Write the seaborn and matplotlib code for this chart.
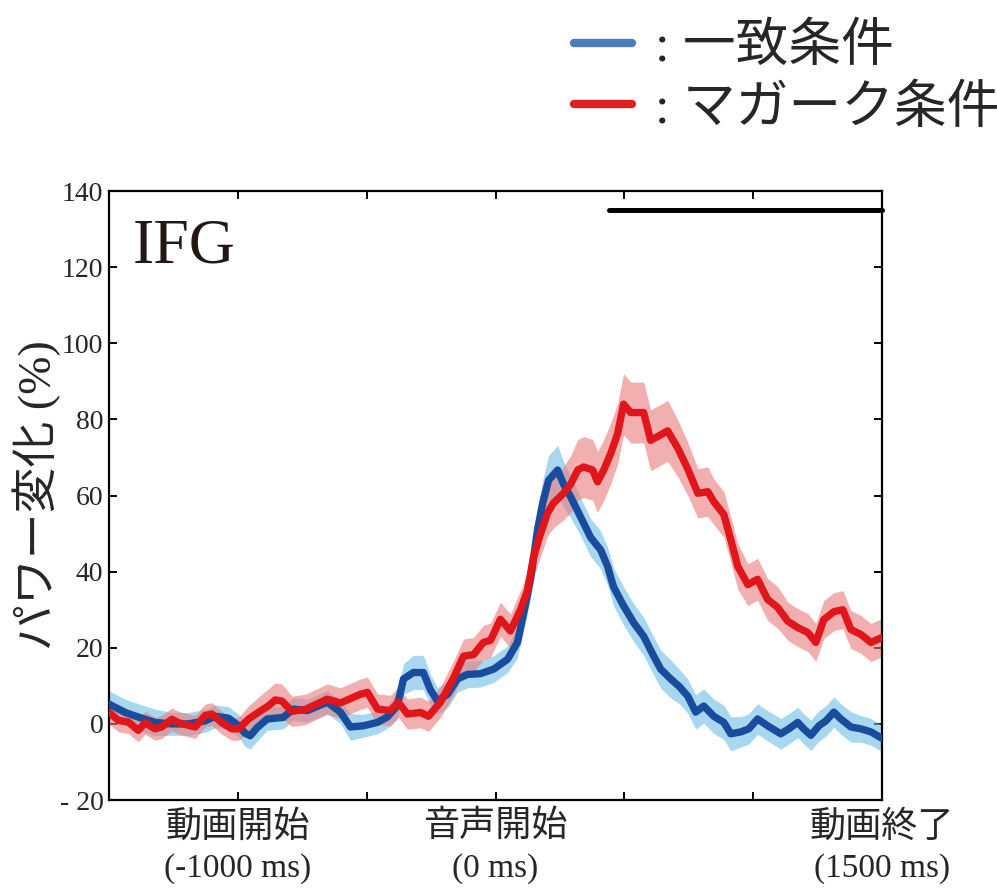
import matplotlib
matplotlib.use("Agg")
import matplotlib.pyplot as plt
import seaborn as sns
import pandas as pd
from matplotlib.lines import Line2D
from matplotlib.font_manager import FontProperties

# ---------------- data ----------------
blue_t = [-1500, -1437, -1386, -1321, -1256, -1191, -1127, -1088, -1036, -997,
          -971, -952, -925, -886, -824, -785, -730, -653, -602, -563,
          -513, -458, -420, -381, -357, -319, -280, -253, -225, -186,
          -148, -109, -58, -7, 47, 85, 109, 136, 163, 183,
          206, 241, 264, 292, 330, 369, 408, 435, 458, 497,
          536, 575, 614, 641, 680, 715, 746, 777, 808, 847,
          886, 913, 952, 983, 1017, 1056, 1107, 1138, 1173, 1196,
          1224, 1255, 1282, 1313, 1340, 1379, 1418, 1457, 1500]
blue_v = [5.2, 3.0, 1.8, 0.4, 0.0, 0.0, 0.8, 2.0, 1.5, -0.5,
          -2.5, -3.1, -1.0, 1.3, 1.7, 3.9, 3.5, 5.7, 3.1, -0.8,
          -0.5, 0.4, 1.8, 4.8, 11.8, 13.5, 13.5, 9.0, 6.0, 7.8,
          11.8, 13.0, 13.2, 14.4, 17.0, 21.4, 29.0, 38.0, 51.0, 58.0,
          64.0, 66.7, 63.0, 59.6, 54.4, 49.0, 45.7, 41.4, 36.0, 31.0,
          26.6, 23.0, 17.8, 14.4, 11.8, 9.7, 7.3, 3.1, 4.7, 2.0,
          0.4, -2.6, -2.1, -1.3, 1.3, -0.5, -2.6, -1.3, 0.4, -1.3,
          -3.0, -0.5, 0.8, 3.1, 1.3, -0.8, -1.3, -2.1, -3.8]
blue_e = [3.5, 3.5, 3.5, 3.5, 3.0, 3.0, 3.0, 3.0, 3.0, 3.0,
          3.5, 3.5, 3.5, 3.0, 3.0, 3.0, 3.0, 3.0, 3.0, 3.5,
          3.0, 3.0, 3.0, 3.5, 4.0, 4.5, 4.5, 4.0, 3.5, 3.5,
          3.5, 3.5, 3.5, 3.5, 3.5, 4.0, 4.5, 5.0, 5.5, 6.0,
          6.5, 6.5, 6.0, 5.5, 5.0, 5.0, 5.0, 5.0, 5.0, 5.0,
          5.0, 5.0, 5.0, 5.0, 5.0, 4.5, 4.5, 4.5, 4.5, 4.5,
          4.5, 4.5, 4.0, 4.0, 4.0, 4.0, 4.0, 4.0, 4.0, 4.0,
          4.0, 4.0, 4.0, 4.0, 4.0, 4.0, 3.5, 3.5, 3.5]

red_t = [-1500, -1463, -1425, -1386, -1360, -1321, -1295, -1256, -1230, -1191,
         -1165, -1127, -1101, -1062, -1023, -997, -958, -919, -880, -855,
         -829, -790, -738, -653, -602, -524, -497, -458, -408, -377,
         -342, -291, -260, -214, -163, -124, -85, -47, -19, 19,
         58, 97, 124, 148, 175, 202, 225, 264, 292, 319,
         342, 377, 396, 420, 447, 474, 497, 525, 575, 602,
         637, 668, 707, 746, 785, 824, 847, 886, 913, 940,
         979, 1017, 1056, 1095, 1134, 1173, 1212, 1243, 1274, 1313,
         1348, 1379, 1418, 1457, 1500]
red_v = [3.0, 0.9, 0.5, -1.7, 0.3, -1.3, -0.8, 1.2, 0.3, -0.4,
         -0.8, 2.2, 2.6, 0.3, -1.3, -1.3, 1.3, 3.1, 4.8, 6.3,
         6.0, 3.3, 3.8, 6.5, 5.5, 7.8, 8.3, 3.9, 3.5, 5.7,
         2.6, 3.0, 2.0, 5.7, 12.0, 17.8, 18.2, 21.4, 22.0, 27.5,
         24.4, 30.0, 35.0, 44.0, 50.0, 55.4, 58.0, 60.6, 63.0, 66.7,
         67.5, 66.7, 63.6, 66.7, 71.0, 76.3, 84.0, 81.8, 81.8, 74.5,
         75.8, 77.0, 72.5, 67.0, 60.6, 61.0, 58.4, 55.0, 48.4, 41.4,
         36.6, 38.0, 32.7, 30.6, 27.0, 25.3, 24.0, 21.4, 27.4, 29.5,
         30.0, 24.8, 23.5, 21.4, 22.7]
red_e = [3.0, 3.0, 3.0, 3.0, 3.0, 3.0, 3.0, 3.0, 3.0, 3.0,
         3.0, 3.0, 3.0, 3.0, 3.0, 3.0, 3.5, 4.0, 4.5, 4.5,
         4.5, 4.0, 4.0, 4.0, 4.0, 4.0, 4.0, 4.0, 4.0, 4.0,
         4.0, 4.0, 4.0, 4.0, 4.5, 4.5, 4.5, 4.5, 4.5, 4.5,
         4.5, 5.0, 5.0, 5.5, 6.0, 6.0, 6.5, 7.0, 7.5, 8.0,
         8.0, 8.0, 8.0, 8.0, 8.0, 8.0, 8.0, 8.0, 8.0, 8.0,
         8.0, 8.0, 7.5, 7.0, 6.5, 6.5, 6.0, 6.0, 6.0, 6.0,
         5.5, 5.5, 5.5, 5.5, 5.0, 5.0, 5.0, 5.0, 5.0, 5.0,
         5.0, 5.0, 5.0, 5.0, 5.0]

sig_start, sig_end, sig_y = 440, 1500, 135

legend_labels = [": 一致条件", ": マガーク条件"]
x_major = [-1000, 0, 1500]
x_minor = [-500, 500, 1000]
x_line1 = ["動画開始", "音声開始", "動画終了"]
x_line2 = ["(-1000 ms)", "(0 ms)", "(1500 ms)"]
y_ticks = [140, 120, 100, 80, 60, 40, 20, 0, -20]
y_labels = ["140", "120", "100", "80", "60", "40", "20", "0", "- 20"]
ylabel = "パワー変化 (%)"
region = "IFG"

# ---------------- style ----------------
sns.set_style("white")
plt.rcParams["font.family"] = ["Liberation Serif", "Noto Sans CJK JP"]

BLUE_LINE = "#1a4c9e"
BLUE_FILL = "#6ebee6"
RED_LINE = "#e0161b"
RED_FILL = "#e97b7b"

blue_df = pd.DataFrame({"t": blue_t, "v": blue_v, "e": blue_e})
red_df = pd.DataFrame({"t": red_t, "v": red_v, "e": red_e})

fig = plt.figure(figsize=(9.97, 8.91), dpi=100)
ax = fig.add_axes([0.1093, 0.1021, 0.7754, 0.6835])

ax.fill_between(blue_df["t"], blue_df["v"] - blue_df["e"], blue_df["v"] + blue_df["e"],
                color=BLUE_FILL, alpha=0.6, lw=0, zorder=1)
ax.fill_between(red_df["t"], red_df["v"] - red_df["e"], red_df["v"] + red_df["e"],
                color=RED_FILL, alpha=0.6, lw=0, zorder=1)
sns.lineplot(data=blue_df, x="t", y="v", ax=ax, color=BLUE_LINE, lw=5.3,
             solid_joinstyle="round", solid_capstyle="round", zorder=3)
sns.lineplot(data=red_df, x="t", y="v", ax=ax, color=RED_LINE, lw=5.3,
             solid_joinstyle="round", solid_capstyle="round", zorder=4)

ax.plot([sig_start, sig_end], [sig_y, sig_y], color="black", lw=3.6,
        solid_capstyle="round", zorder=5, clip_on=False)

ax.set_xlim(-1500, 1500)
ax.set_ylim(-20, 140)

for s in ax.spines.values():
    s.set_visible(True)
    s.set_linewidth(1.6)
    s.set_color("black")

ax.set_xticks(x_major)
ax.set_xticks(x_minor, minor=True)
ax.set_xticklabels(x_line1, fontfamily="Noto Sans CJK JP", fontsize=26)
ax.set_yticks(y_ticks)
ax.set_yticklabels(y_labels, fontfamily="Liberation Serif", fontsize=20)
ax.tick_params(axis="both", which="both", direction="in", length=6, width=1.4,
               top=True, right=True, bottom=True, left=True, color="black")
ax.tick_params(axis="x", which="major", pad=6)
ax.tick_params(axis="y", which="major", pad=4)

for pos, lab in zip(x_major, x_line2):
    ax.annotate(lab, xy=(pos, 0), xycoords=("data", "axes fraction"),
                xytext=(0, -38), textcoords="offset points",
                ha="center", va="top", fontfamily="Liberation Serif", fontsize=24)

ax.set_xlabel("")
ax.set_ylabel(ylabel, fontsize=33, family=["Liberation Serif", "Noto Sans CJK JP"])
ax.yaxis.set_label_coords(-0.062, 0.5)

ax.text(0.031, 0.883, region, transform=ax.transAxes, fontsize=46,
        fontfamily="Liberation Serif", va="baseline", ha="left", color="#231815")

handles = [Line2D([], [], color="#4a7ebb", lw=6),
           Line2D([], [], color="#e02020", lw=6)]
fig.legend(handles, legend_labels, loc="upper left", bbox_to_anchor=(0.539, 1.015),
           frameon=False, handlelength=1.1, handletextpad=0.42, labelspacing=0.25,
           borderpad=0.2, prop=FontProperties(family=["Liberation Serif", "Noto Sans CJK JP"], size=38))

fig.savefig("out.png", dpi=100)
